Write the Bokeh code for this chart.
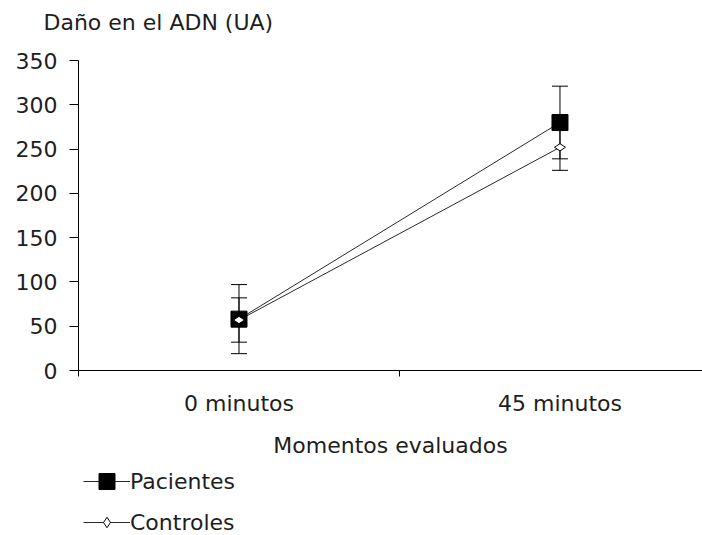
from bokeh.plotting import figure
from bokeh.models import (ColumnDataSource, FixedTicker, Whisker, TeeHead,
                          Legend, LegendItem, Range1d, LinearAxis, Label)
from bokeh.embed import file_html
from bokeh.resources import INLINE

# ---- data ----
categories = ["0 minutos", "45 minutos"]
pacientes = [58, 280]
pacientes_err = [39, 41]
controles = [57, 252]
controles_err = [25, 26]
y_ticks = [0, 50, 100, 150, 200, 250, 300, 350]
y_title = "Daño en el ADN (UA)"
x_title = "Momentos evaluados"

FONT = "DejaVu Sans"
FS = "22px"
TXT = "#1e1e1e"

xpos = [i + 0.5 for i in range(len(categories))]

src_p = ColumnDataSource(dict(
    x=xpos, y=pacientes,
    upper=[v + e for v, e in zip(pacientes, pacientes_err)],
    lower=[v - e for v, e in zip(pacientes, pacientes_err)]))
src_c = ColumnDataSource(dict(
    x=xpos, y=controles,
    upper=[v + e for v, e in zip(controles, controles_err)],
    lower=[v - e for v, e in zip(controles, controles_err)]))

# The frame covers the whole canvas; axes sit at fixed data locations.
# Plot area: x 78..702 px for 0..1.944, y 60..370 px for 350..0.
y_top = y_ticks[-1]
upp = y_top / 310.0            # data units per pixel (y)
x_end = 1.944
xpp = x_end / 624.0            # data units per pixel (x)

p = figure(width=702, height=535, output_backend="svg", toolbar_location=None,
           x_range=Range1d(-78 * xpp, x_end),
           y_range=Range1d(-165 * upp, y_top + 60 * upp),
           x_axis_location=None, y_axis_location=None,
           min_border=0)
p.outline_line_color = None
p.grid.visible = False
p.background_fill_color = "white"
p.border_fill_color = "white"

# x axis fixed at y = 0
xa = LinearAxis(fixed_location=0, bounds=(0, x_end))
xa.ticker = FixedTicker(ticks=xpos, minor_ticks=[0, 1, 2])
xa.major_label_overrides = {x: c for x, c in zip(xpos, categories)}
xa.major_tick_out = 0
xa.major_tick_in = 0
xa.minor_tick_out = 6
xa.minor_tick_in = 0
xa.minor_tick_line_color = "black"
xa.axis_line_color = "black"
xa.major_label_standoff = 14
xa.axis_label = x_title
xa.axis_label_standoff = 14
p.add_layout(xa, "below")

# y axis fixed at x = 0
ya = LinearAxis(fixed_location=0, bounds=(0, y_top))
ya.ticker = FixedTicker(ticks=y_ticks)
ya.major_tick_out = 9
ya.major_tick_in = 0
ya.minor_tick_line_color = None
ya.axis_line_color = "black"
ya.major_tick_line_color = "black"
ya.major_label_standoff = 12
p.add_layout(ya, "left")

for ax in (xa, ya):
    ax.major_label_text_font = FONT
    ax.major_label_text_font_size = FS
    ax.major_label_text_color = TXT
    ax.axis_label_text_font = FONT
    ax.axis_label_text_font_size = FS
    ax.axis_label_text_font_style = "normal"
    ax.axis_label_text_color = TXT

# value-axis title, above the top of the y axis
p.add_layout(Label(x=0, y=y_top, x_offset=-35, y_offset=38, text=y_title,
                   text_font=FONT, text_font_size=FS, text_color=TXT,
                   text_align="left", text_baseline="middle"))

# error bars
for src in (src_p, src_c):
    w = Whisker(source=src, base="x", upper="upper", lower="lower",
                line_color="black", line_width=1, level="underlay",
                upper_head=TeeHead(size=16, line_color="black", line_width=1),
                lower_head=TeeHead(size=16, line_color="black", line_width=1))
    p.add_layout(w)

lp = p.line("x", "y", source=src_p, line_color="#2a2a2a", line_width=1)
lc = p.line("x", "y", source=src_c, line_color="#2a2a2a", line_width=1)
sp = p.scatter("x", "y", source=src_p, marker="square", size=16,
               fill_color="black", line_color="black")
sc = p.scatter("x", "y", source=src_c, marker="diamond", size=11, angle=1.5708,
               fill_color="white", line_color="black", line_width=1)

common = dict(padding=0, margin=0, border_line_alpha=0, background_fill_alpha=0,
              glyph_width=47, label_standoff=0, spacing=0,
              label_text_font=FONT, label_text_font_size=FS,
              label_text_color=TXT, label_text_baseline="middle")

leg1 = Legend(items=[LegendItem(label="Pacientes", renderers=[lp, sp])],
              location=(83, 34), glyph_height=40, label_height=40, **common)
leg2 = Legend(items=[LegendItem(label="Controles", renderers=[lc, sc])],
              location=(83, 0), glyph_height=26, label_height=26, **common)
p.add_layout(leg1)
p.add_layout(leg2)

open("out.html", "w").write(file_html(p, INLINE))
